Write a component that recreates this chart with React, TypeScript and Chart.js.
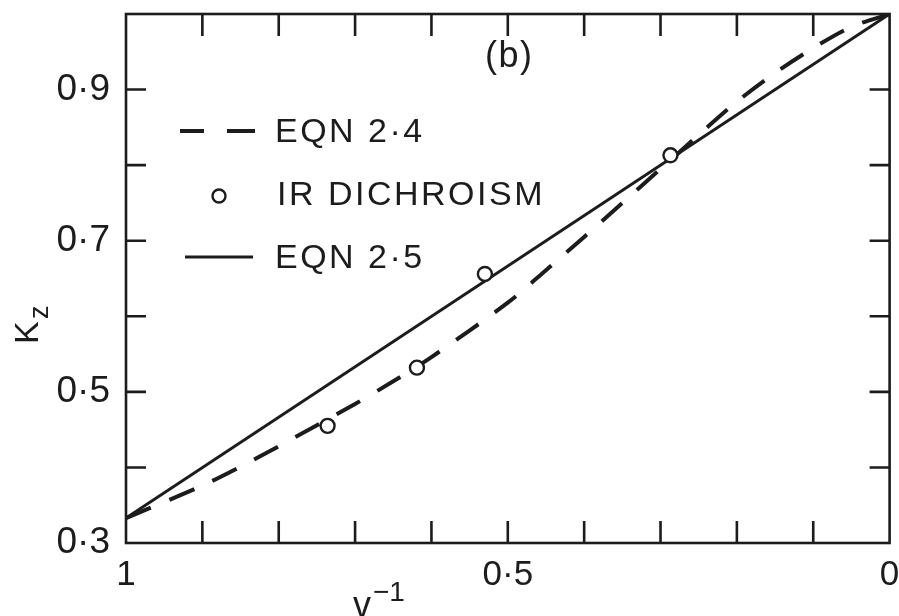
import React, { useEffect, useRef } from "react";
import { Chart, registerables } from "chart.js";

Chart.register(...registerables);

// ---- data ----
const eqn25X = [1, 0];
const eqn25Y = [0.333, 1.0];

const eqn24X = [1, 0.9, 0.85, 0.8, 0.7, 0.65, 0.6, 0.5, 0.45, 0.4, 0.35, 0.3, 0.25, 0.2, 0.15, 0.1, 0.05, 0];
const eqn24Y = [0.333, 0.376, 0.401, 0.428, 0.484, 0.514, 0.546, 0.618, 0.661, 0.705, 0.75, 0.795, 0.84, 0.884, 0.922, 0.955, 0.983, 1.0];

const irX = [0.736, 0.619, 0.53, 0.287];
const irY = [0.455, 0.532, 0.656, 0.813];

const yLabelValues = [0.3, 0.5, 0.7, 0.9];
const xLabelValues = [1, 0.5, 0];
const legendLabels = ["EQN 2·4", "IR DICHROISM", "EQN 2·5"];
const panelLabel = "(b)";
const yTitleMain = "K";
const yTitleSub = "z";
const xTitleMain = "v";
const xTitleSup = "−1";

const INK = "#1c1c1c";
const FONT = "'Liberation Sans', Arial, sans-serif";

const fmt = (v: number) => {
  const r = Math.round(v * 10) / 10;
  if (r === 0) return "0";
  if (r === 1) return "1";
  return r.toFixed(1).replace(".", "·");
};
const near = (a: number, b: number) => Math.abs(a - b) < 1e-6;

const decorPlugin = {
  id: "decor",
  afterDatasetsDraw(chart: any) {
    const { ctx, chartArea: a, scales } = chart;
    const xs = scales.x;
    const ys = scales.y;
    ctx.save();
    ctx.strokeStyle = INK;
    ctx.fillStyle = INK;
    ctx.lineCap = "butt";
    // frame
    ctx.lineWidth = 2.6;
    ctx.strokeRect(a.left, a.top, a.right - a.left, a.bottom - a.top);
    // inward ticks
    ctx.lineWidth = 2.6;
    xs.ticks.forEach((t: any) => {
      const v = t.value;
      if (v < 1e-6 || v > 1 - 1e-6) return;
      const px = xs.getPixelForValue(v);
      ctx.beginPath();
      ctx.moveTo(px, a.bottom);
      ctx.lineTo(px, a.bottom - 22);
      ctx.moveTo(px, a.top);
      ctx.lineTo(px, a.top + 22);
      ctx.stroke();
    });
    ys.ticks.forEach((t: any) => {
      const v = t.value;
      if (v < 0.3 + 1e-6 || v > 1 - 1e-6) return;
      const py = ys.getPixelForValue(v);
      ctx.beginPath();
      ctx.moveTo(a.left, py);
      ctx.lineTo(a.left + 20, py);
      ctx.moveTo(a.right, py);
      ctx.lineTo(a.right - 20, py);
      ctx.stroke();
    });

    // legend
    ctx.lineWidth = 4;
    ctx.beginPath();
    ctx.moveTo(180, 131);
    ctx.lineTo(204, 131);
    ctx.moveTo(227, 131);
    ctx.lineTo(255, 131);
    ctx.stroke();
    ctx.lineWidth = 2.4;
    ctx.beginPath();
    ctx.fillStyle = "#ffffff";
    ctx.arc(219, 196, 6.5, 0, Math.PI * 2);
    ctx.fill();
    ctx.stroke();
    ctx.fillStyle = INK;
    ctx.lineWidth = 3.2;
    ctx.beginPath();
    ctx.moveTo(185, 257);
    ctx.lineTo(253, 257);
    ctx.stroke();

    ctx.font = `34px ${FONT}`;
    (ctx as any).letterSpacing = "2.5px";
    ctx.textAlign = "left";
    ctx.textBaseline = "alphabetic";
    ctx.fillText(legendLabels[0], 275, 142);
    ctx.fillText(legendLabels[1], 277, 205);
    ctx.fillText(legendLabels[2], 275, 268);

    // panel label
    ctx.font = `36px ${FONT}`;
    (ctx as any).letterSpacing = "1.5px";
    ctx.fillText(panelLabel, 485, 67);
    (ctx as any).letterSpacing = "0px";

    // x title
    ctx.font = `36px ${FONT}`;
    ctx.fillText(xTitleMain, 353, 617);
    ctx.font = `28px ${FONT}`;
    ctx.fillText(xTitleSup, 373, 601);

    // y title
    ctx.save();
    ctx.translate(38, 344);
    ctx.rotate(-Math.PI / 2);
    ctx.font = `34px ${FONT}`;
    ctx.fillText(yTitleMain, 0, 0);
    ctx.font = `27px ${FONT}`;
    ctx.fillText(yTitleSub, 25, 10);
    ctx.restore();

    ctx.restore();
  },
};

export default function App() {
  const ref = useRef<HTMLCanvasElement | null>(null);
  useEffect(() => {
    if (!ref.current) return;
    const chart = new Chart(ref.current, {
      type: "scatter",
      data: {
        datasets: [
          {
            label: legendLabels[0],
            data: eqn24X.map((x, i) => ({ x, y: eqn24Y[i] })),
            showLine: true,
            borderColor: INK,
            borderWidth: 4,
            borderDash: [27, 20],
            pointRadius: 0,
            tension: 0.3,
            order: 3,
          },
          {
            label: legendLabels[2],
            data: eqn25X.map((x, i) => ({ x, y: eqn25Y[i] })),
            showLine: true,
            borderColor: INK,
            borderWidth: 3,
            pointRadius: 0,
            order: 2,
          },
          {
            label: legendLabels[1],
            data: irX.map((x, i) => ({ x, y: irY[i] })),
            showLine: false,
            pointStyle: "circle",
            pointRadius: 7,
            pointBorderWidth: 2.4,
            pointBorderColor: INK,
            pointBackgroundColor: "#ffffff",
            order: 1,
          },
        ],
      },
      options: {
        responsive: false,
        animation: false,
        layout: { padding: { left: 0, right: 9, top: 14, bottom: 0 } },
        plugins: {
          legend: { display: false },
          tooltip: { enabled: false },
        },
        scales: {
          x: {
            type: "linear",
            min: 0,
            max: 1,
            reverse: true,
            afterFit: (s: any) => {
              s.height = 73;
              s.paddingLeft = 0;
              s.paddingRight = 0;
            },
            border: { display: false },
            grid: { display: false, drawTicks: false },
            ticks: {
              stepSize: 0.1,
              autoSkip: false,
              maxRotation: 0,
              padding: 11,
              color: INK,
              font: { family: FONT, size: 35 },
              callback: (v: any) => (xLabelValues.some((t) => near(t, Number(v))) ? fmt(Number(v)) : ""),
            },
          },
          y: {
            type: "linear",
            min: 0.3,
            max: 1.0,
            afterFit: (s: any) => {
              s.width = 126;
              s.paddingTop = 0;
              s.paddingBottom = 0;
            },
            border: { display: false },
            grid: { display: false, drawTicks: false },
            ticks: {
              stepSize: 0.1,
              autoSkip: false,
              padding: 16,
              color: INK,
              font: { family: FONT, size: 37 },
              callback: (v: any) => (yLabelValues.some((t) => near(t, Number(v))) ? fmt(Number(v)) : ""),
            },
          },
        },
      },
      plugins: [decorPlugin],
    });
    return () => chart.destroy();
  }, []);
  return (
    <div style={{ position: "fixed", left: 0, top: 0, width: 899, height: 616, background: "#fff" }}>
      <canvas ref={ref} width={899} height={616} style={{ display: "block" }} />
    </div>
  );
}
